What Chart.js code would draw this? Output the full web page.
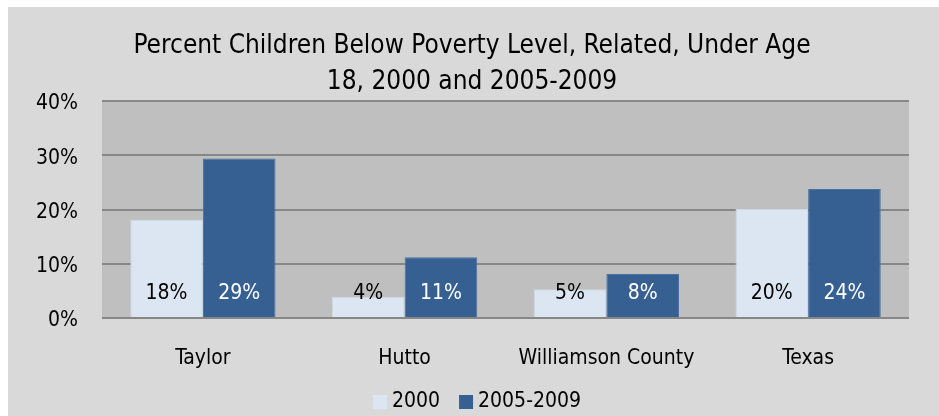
<!DOCTYPE html>
<html>
<head>
<meta charset="utf-8">
<script src="https://cdn.jsdelivr.net/npm/chart.js@4"></script>
<style>
html,body{margin:0;padding:0;background:#ffffff;}
#wrap{width:939px;height:416px;position:relative;}
</style>
</head>
<body>
<div id="wrap"><canvas id="c" width="939" height="416"></canvas></div>
<script>
const categories = ["Taylor", "Hutto", "Williamson County", "Texas"];
const series2000 = [18.1, 3.9, 5.3, 20.1];
const series2005 = [29.4, 11.2, 8.1, 23.8];
const labels2000 = ["18%", "4%", "5%", "20%"];
const labels2005 = ["29%", "11%", "8%", "24%"];
const yTicks = [0, 10, 20, 30, 40];
const titleLines = ["Percent Children Below Poverty Level, Related, Under Age", "18, 2000 and 2005-2009"];
const seriesNames = ["2000", "2005-2009"];

const FONT = "'Liberation Sans Narrow', 'Arial Narrow', 'DejaVu Sans Condensed', sans-serif";
const C_LIGHT = "#dce6f2";
const C_DARK = "#366092";

const bgPlugin = {
  id: "bg",
  beforeDraw(chart) {
    const ctx = chart.ctx, a = chart.chartArea;
    ctx.save();
    ctx.fillStyle = "#d9d9d9";
    ctx.fillRect(8, 7, chart.width - 8, chart.height - 7);
    ctx.fillStyle = "#bfbfbf";
    ctx.fillRect(a.left, a.top, a.right - a.left, a.bottom - a.top);
    ctx.restore();
  },
  afterDraw(chart) {
    const ctx = chart.ctx;
    ctx.save();
    ctx.fillStyle = "#000";
    ctx.textAlign = "center";
    ctx.textBaseline = "middle";
    ctx.font = "26px " + FONT;
    ctx.fillText(titleLines[0], 472, 46);
    ctx.fillText(titleLines[1], 472, 82);
    // data labels
    ctx.font = "21px " + FONT;
    chart.data.datasets.forEach((ds, i) => {
      const meta = chart.getDatasetMeta(i);
      meta.data.forEach((bar, j) => {
        ctx.fillStyle = i === 0 ? "#000000" : "#ffffff";
        ctx.fillText(ds.valueLabels[j], bar.x, 294);
      });
    });
    // legend
    ctx.textAlign = "left";
    ctx.font = "21px " + FONT;
    const items = chart.data.datasets.map(ds => ({ text: ds.label, color: ds.backgroundColor }));
    const boxW = 14, gapBox = 5, gapItem = 19;
    let total = 0;
    items.forEach((it, i) => { total += boxW + gapBox + ctx.measureText(it.text).width + (i ? gapItem : 0); });
    let x = 477 - total / 2;
    const yc = 402;
    items.forEach((it, i) => {
      if (i) x += gapItem;
      ctx.fillStyle = it.color;
      ctx.fillRect(x, yc - 7, boxW, boxW);
      x += boxW + gapBox;
      ctx.fillStyle = "#000";
      ctx.fillText(it.text, x, yc);
      x += ctx.measureText(it.text).width;
    });
    ctx.restore();
  }
};

new Chart(document.getElementById("c"), {
  type: "bar",
  data: {
    labels: categories,
    datasets: [
      { label: seriesNames[0], data: series2000, valueLabels: labels2000, backgroundColor: C_LIGHT, borderColor: "#cfd9e6", borderWidth: 1 },
      { label: seriesNames[1], data: series2005, valueLabels: labels2005, backgroundColor: C_DARK, borderColor: "#4a72a3", borderWidth: 1 }
    ]
  },
  options: {
    responsive: false,
    animation: false,
    devicePixelRatio: 1,
    layout: { padding: { top: 101, right: 30, left: 0, bottom: 0 } },
    datasets: { bar: { categoryPercentage: 0.72, barPercentage: 1.0 } },
    plugins: {
      title: { display: false },
      tooltip: { enabled: false },
      legend: { display: false }
    },
    scales: {
      x: {
        grid: { display: false, drawTicks: false },
        border: { display: false },
        ticks: { color: "#000", font: { family: FONT, size: 21 }, padding: 28, maxRotation: 0 },
        afterFit(s) { s.height = 98; }
      },
      y: {
        min: 0, max: 40,
        afterBuildTicks(s) { s.ticks = yTicks.map(v => ({ value: v })); },
        grid: { color: "#878787", lineWidth: 2, drawTicks: false },
        border: { display: false },
        ticks: { color: "#000", font: { family: FONT, size: 21 }, padding: 24, labelOffset: 3, callback: v => v + "%" },
        afterFit(s) { s.width = 102; }
      }
    }
  },
  plugins: [bgPlugin]
});
</script>
</body>
</html>
